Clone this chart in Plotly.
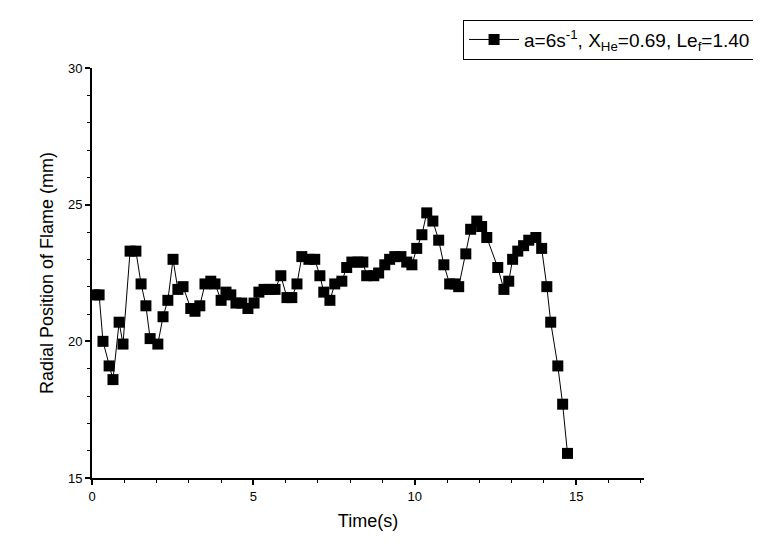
import plotly.graph_objects as go

# (time s, radial position mm)
time_s = [0.09, 0.22, 0.34, 0.53, 0.65, 0.84, 0.96, 1.18, 1.36, 1.52, 1.67, 1.80,
          2.04, 2.20, 2.35, 2.51, 2.66, 2.82, 3.06, 3.19, 3.34, 3.50, 3.68, 3.81,
          4.00, 4.15, 4.30, 4.46, 4.64, 4.83, 5.02, 5.17, 5.33, 5.48, 5.67, 5.85,
          6.04, 6.19, 6.35, 6.50, 6.72, 6.90, 7.06, 7.18, 7.37, 7.52, 7.74, 7.89,
          8.05, 8.24, 8.39, 8.51, 8.73, 8.88, 9.07, 9.22, 9.38, 9.57, 9.75, 9.91,
          10.06, 10.22, 10.37, 10.56, 10.74, 10.90, 11.08, 11.24, 11.36, 11.58, 11.73, 11.92,
          12.07, 12.23, 12.57, 12.76, 12.91, 13.03, 13.19, 13.37, 13.53, 13.75, 13.93, 14.09,
          14.21, 14.43, 14.58, 14.73]
radius_mm = [21.7, 21.7, 20.0, 19.1, 18.6, 20.7, 19.9, 23.3, 23.3, 22.1, 21.3, 20.1,
             19.9, 20.9, 21.5, 23.0, 21.9, 22.0, 21.2, 21.1, 21.3, 22.1, 22.2, 22.1,
             21.5, 21.8, 21.7, 21.4, 21.4, 21.2, 21.4, 21.8, 21.9, 21.9, 21.9, 22.4,
             21.6, 21.6, 22.1, 23.1, 23.0, 23.0, 22.4, 21.8, 21.5, 22.1, 22.2, 22.7,
             22.9, 22.9, 22.9, 22.4, 22.4, 22.5, 22.8, 23.0, 23.1, 23.1, 22.9, 22.8,
             23.4, 23.9, 24.7, 24.4, 23.7, 22.8, 22.1, 22.1, 22.0, 23.2, 24.1, 24.4,
             24.2, 23.8, 22.7, 21.9, 22.2, 23.0, 23.3, 23.5, 23.7, 23.8, 23.4, 22.0,
             20.7, 19.1, 17.7, 15.9]
label = "a=6s<sup>-1</sup>, X<sub>He</sub>=0.69, Le<sub>f</sub>=1.40"

fig = go.Figure(go.Scatter(
    x=time_s, y=radius_mm, mode="lines+markers", name=label,
    line=dict(color="black", width=1),
    marker=dict(symbol="square", size=11, color="black"),
    cliponaxis=True,
))

axis_common = dict(showline=True, linecolor="black", linewidth=2, ticks="outside",
                   tickwidth=2, ticklen=5, tickcolor="black", showgrid=False,
                   zeroline=False, mirror=False,
                   minor=dict(ticks="outside", ticklen=3, tickwidth=1, tickcolor="black"),
                   tickfont=dict(size=13, color="black"))

fig.update_xaxes(range=[0, 17.1], dtick=5, title=dict(text="Time(s)", font=dict(size=18), standoff=12),
                 **axis_common)
fig.update_yaxes(range=[15, 30], dtick=5, title=dict(text="Radial Position of Flame (mm)", font=dict(size=18), standoff=10),
                 **axis_common)

fig.update_layout(
    width=761, height=558,
    margin=dict(l=84, r=125, t=54, b=88),
    plot_bgcolor="white", paper_bgcolor="white",
    font=dict(family="Liberation Sans, Arial, sans-serif", color="black"),
    showlegend=True,
    legend=dict(x=1.203, y=1.118, xanchor="right", yanchor="top", bordercolor="black",
                borderwidth=1, bgcolor="white", font=dict(size=19), itemwidth=50),
)

fig.write_html("out.html")
